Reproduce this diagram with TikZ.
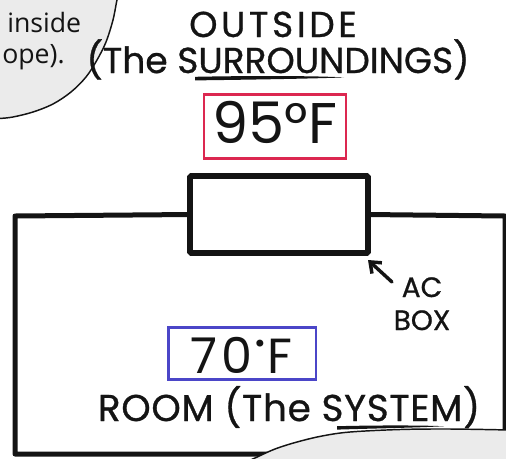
\documentclass[tikz,border=0pt]{standalone}
\usepackage{fontspec}
\setmainfont{Poppins}[FakeBold=0.8]
\newfontfamily\notefont{Open Sans}
\newfontfamily\thinhand{Poppins}
\newfontfamily\symfont{DejaVu Sans}
\usetikzlibrary{arrows.meta}

\definecolor{ink}{HTML}{141414}
\definecolor{tempred}{HTML}{DC2850}
\definecolor{tempblue}{HTML}{4B46C8}
\definecolor{bubblegray}{HTML}{EBEBEB}

\tikzset{
  wall/.style={draw=ink, line width=3.75pt, line cap=round, line join=round},
  acunit/.style={draw=ink, line width=4.3pt, rectangle, inner sep=0pt, outer sep=0pt,
    minimum width=133.5pt, minimum height=57.75pt, rounded corners=1pt},
  tempbox/.style={rectangle, line width=2pt, inner sep=0pt, outer sep=0pt},
  hand/.style={text=ink, inner sep=0pt, anchor=base},
  note/.style={text=ink, inner sep=0pt, anchor=base west, font=\notefont\fontsize{20}{20}\selectfont},
  bubble/.style={fill=bubblegray, draw=ink, line width=1.1pt},
  pointer/.style={draw=ink, line width=2.6pt, line cap=round, -{Straight Barb[length=7pt, width=11pt, line width=2.6pt]}},
}

\begin{document}
\begin{tikzpicture}[x=0.75pt, y=-0.75pt]
\useasboundingbox (0,0) rectangle (506,458);
\clip (0,0) rectangle (506,458);

% room walls and the AC unit set into the top wall
\node[acunit] (ac) at (279,214.5) {};
\coordinate (roomTL) at (15,216);
\coordinate (roomBL) at (15,454);
\coordinate (roomBR) at (505,454);
\coordinate (roomTR) at (505,216);
\draw[wall] (ac.west) -- (roomTL) -- (roomBL) -- (roomBR);
\draw[wall] (ac.east) -- (roomTR) -- (roomBR);
\node[acunit] at (ac) {};

% speech bubbles, traced through points on their rims
\draw[bubble] plot[smooth, tension=0.55] coordinates
  {(119,-4) (117,0) (113,20) (106,42) (97,60) (86,77) (71,92) (53,104) (33,112) (13,117) (0,118.5) (-4,119)}
  -- (-4,-4) -- cycle;
\draw[bubble] plot[smooth, tension=0.55] coordinates
  {(246,462) (255,458) (275,449) (297,442) (322,436) (350,432) (400,429.5) (450,429) (510,430)}
  -- (510,462) -- cycle;

\node[note] (noteA) at (7,32) {inside};
\node[note] (noteB) at (2,63) {ope).};

% outside label
\node[hand, font=\addfontfeatures{LetterSpace=10}\fontsize{27}{27}\selectfont] (outside) at (273,37) {OUTSIDE};
\node[hand, font=\fontsize{27}{27}\selectfont] (surroundings) at (278,73) {(The SURROUNDINGS)};
\fill[ink] (195,76.8) .. controls (255,75.6) and (315,75.8) .. (344,77.4)
  .. controls (315,78.6) and (255,79.6) .. (195,80.4) -- cycle;

% outside temperature
\node[tempbox, draw=tempred, minimum width=106.5pt, minimum height=48pt] (hotbox) at (275,126.5) {};
\node[hand, font=\thinhand\fontsize{43}{43}\selectfont] (hotlabel) at (275,143) {95°F};

% pointer to the AC unit
\coordinate (pointertail) at (392,282);
\draw[pointer] (pointertail) -- ([shift={(0,7)}]ac.south east);
\node[hand, font=\fontsize{21}{21}\selectfont] (acword) at (422,297) {AC};
\node[hand, font=\fontsize{21}{21}\selectfont] (boxword) at (422,330) {BOX};

% room temperature
\node[tempbox, draw=tempblue, minimum width=110.6pt, minimum height=39pt] (coldbox) at (242.25,353.5) {};
\node[hand, font=\thinhand\addfontfeatures{LetterSpace=10}\fontsize{37}{37}\selectfont] (coldlabel) at (241,373)
  {70\raisebox{0.42em}{\symfont\fontsize{18}{18}\selectfont •}F};

% room label
\node[hand, font=\addfontfeatures{LetterSpace=2}\fontsize{28}{28}\selectfont] (roomlabel) at (289,421) {ROOM (The SYSTEM)};
\fill[ink] (337,426.2) .. controls (375,425.2) and (420,425.2) .. (444,426.2)
  .. controls (420,427.6) and (375,428.4) .. (337,429.6) -- cycle;
\end{tikzpicture}
\end{document}
